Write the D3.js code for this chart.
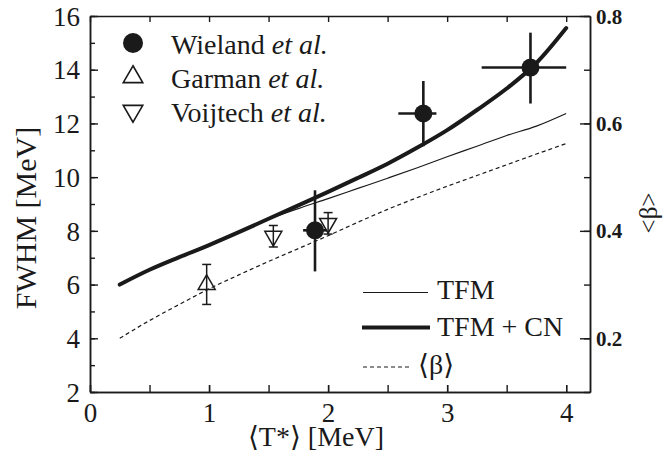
<!DOCTYPE html>
<html>
<head>
<meta charset="utf-8">
<script src="https://cdn.jsdelivr.net/npm/d3@7"></script>
<style>
  html, body { margin: 0; padding: 0; background: #fff; }
  svg { display: block; }
  text { font-family: "Liberation Serif", "Times New Roman", "DejaVu Serif", serif; fill: #1a1a1a; }
</style>
</head>
<body>
<svg id="chart" width="664" height="462"></svg>
<script>
// ---------- data ----------
const tGrid      = [0.25, 0.5, 0.75, 1.0, 1.25, 1.5, 1.75, 2.0, 2.25, 2.5, 2.75, 3.0, 3.25, 3.5, 3.75, 4.0];
const tfmCN      = [6.0, 6.55, 7.02, 7.47, 7.95, 8.45, 8.95, 9.45, 9.97, 10.5, 11.1, 11.75, 12.5, 13.3, 14.25, 15.55];
const tfm        = [6.0, 6.55, 7.02, 7.47, 7.95, 8.43, 8.83, 9.2, 9.58, 9.96, 10.35, 10.76, 11.15, 11.55, 11.9, 12.37];
const betaMean   = [0.200, 0.233, 0.263, 0.292, 0.318, 0.343, 0.367, 0.391, 0.416, 0.440, 0.462, 0.483, 0.503, 0.523, 0.543, 0.5625];

// Wieland et al.: T, FWHM, x-error low/high, y-error low/high
const wielandT     = [1.89, 2.80, 3.70];
const wielandFWHM  = [8.02, 12.37, 14.08];
const wielandTLo   = [1.79, 2.59, 3.29];
const wielandTHi   = [1.99, 2.91, 4.00];
const wielandFLo   = [6.49, 11.15, 12.74];
const wielandFHi   = [9.51, 13.58, 15.38];

// Garman et al.
const garmanT    = [0.98];
const garmanFWHM = [6.0];
const garmanFLo  = [5.26];
const garmanFHi  = [6.75];

// Voijtech et al.
const voijT      = [1.54, 2.0];
const voijFWHM   = [7.8, 8.28];
const voijFLo    = [7.4, 7.88];
const voijFHi    = [8.2, 8.68];

const xTicksMajor = [0, 1, 2, 3, 4];
const xTicksMinor = [0, 0.5, 1, 1.5, 2, 2.5, 3, 3.5, 4];
const yTicksMajor = [2, 4, 6, 8, 10, 12, 14, 16];
const yTicksMinor = [2, 3, 4, 5, 6, 7, 8, 9, 10, 11, 12, 13, 14, 15, 16];
const rTicksMajor = [0.2, 0.4, 0.6, 0.8];
const rTicksMinor = [0.1, 0.2, 0.3, 0.4, 0.5, 0.6, 0.7, 0.8];

const legendMarkers = ["Wieland", "Garman", "Voijtech"];
const legendLines   = ["TFM", "TFM + CN", "\u27E8\u03B2\u27E9"];

// ---------- layout ----------
const L = 90, R = 590, T = 16, B = 392;
const ink = "#1a1a1a";
const svg = d3.select("#chart");
svg.append("rect").attr("width", 664).attr("height", 462).attr("fill", "#fff");

const x  = d3.scaleLinear().domain([0, 4.2]).range([L, R]);
const yL = d3.scaleLinear().domain([2, 16]).range([B, T]);
const yR = d3.scaleLinear().domain([0.1, 0.8]).range([B, T]);

function styleAxis(g) {
  g.selectAll("path.domain").attr("stroke", ink).attr("stroke-width", 1.5);
  g.selectAll(".tick line").attr("stroke", ink).attr("stroke-width", 1.4);
}

// minor ticks
svg.append("g").attr("transform", `translate(${L},0)`)
  .call(d3.axisLeft(yL).tickValues(yTicksMinor).tickSize(-5).tickSizeOuter(0).tickFormat(""))
  .call(styleAxis);
svg.append("g").attr("transform", `translate(${R},0)`)
  .call(d3.axisRight(yR).tickValues(rTicksMinor).tickSize(-6).tickSizeOuter(0).tickFormat(""))
  .call(styleAxis);
svg.append("g").attr("transform", `translate(0,${B})`)
  .call(d3.axisBottom(x).tickValues(xTicksMinor).tickSize(-7).tickSizeOuter(0).tickFormat(""))
  .call(styleAxis);
svg.append("g").attr("transform", `translate(0,${T})`)
  .call(d3.axisTop(x).tickValues(xTicksMinor).tickSize(-6).tickSizeOuter(0).tickFormat(""))
  .call(styleAxis);

// major ticks with labels
const gl = svg.append("g").attr("transform", `translate(${L},0)`)
  .call(d3.axisLeft(yL).tickValues(yTicksMajor).tickSize(-8).tickSizeOuter(0).tickPadding(10).tickFormat(d3.format("d")))
  .call(styleAxis);
gl.selectAll("text").attr("font-size", 27).attr("fill", ink).attr("dy", "0.34em");

const gb = svg.append("g").attr("transform", `translate(0,${B})`)
  .call(d3.axisBottom(x).tickValues(xTicksMajor).tickSize(-7).tickSizeOuter(0).tickPadding(11).tickFormat(d3.format("d")))
  .call(styleAxis);
gb.selectAll("text").attr("font-size", 27).attr("fill", ink);

const gr = svg.append("g").attr("transform", `translate(${R},0)`)
  .call(d3.axisRight(yR).tickValues(rTicksMajor).tickSize(-10).tickSizeOuter(0).tickPadding(6).tickFormat(d3.format(".1f")))
  .call(styleAxis);
gr.selectAll("text").attr("font-size", 21).attr("font-weight", "bold").attr("fill", ink).attr("dy", "0.34em");

// axis titles
svg.append("text").attr("transform", "translate(36,218) rotate(-90)")
  .attr("text-anchor", "middle").attr("font-size", 30).text("FWHM [MeV]");
svg.append("text").attr("x", 316).attr("y", 446)
  .attr("text-anchor", "middle").attr("font-size", 28).text("\u27E8T*\u27E9 [MeV]");
svg.append("text").attr("transform", "translate(657,213) rotate(-90)")
  .attr("text-anchor", "middle").attr("font-size", 25).text("<\u03B2>");

// ---------- curves ----------
const lineL = d3.line().x(d => x(d[0])).y(d => yL(d[1])).curve(d3.curveMonotoneX);
const lineR = d3.line().x(d => x(d[0])).y(d => yR(d[1])).curve(d3.curveMonotoneX);

svg.append("path").datum(d3.zip(tGrid, betaMean)).attr("d", lineR)
  .attr("fill", "none").attr("stroke", ink).attr("stroke-width", 1.2).attr("stroke-dasharray", "4,3");
svg.append("path").datum(d3.zip(tGrid, tfm)).attr("d", lineL)
  .attr("fill", "none").attr("stroke", ink).attr("stroke-width", 1.2);
svg.append("path").datum(d3.zip(tGrid, tfmCN)).attr("d", lineL)
  .attr("fill", "none").attr("stroke", ink).attr("stroke-width", 4).attr("stroke-linecap", "round");

// ---------- data points ----------
const wieland = wielandT.map((t, i) => ({t, f: wielandFWHM[i], tl: wielandTLo[i], th: wielandTHi[i], fl: wielandFLo[i], fh: wielandFHi[i]}));
const gW = svg.append("g");
gW.selectAll("line.v").data(wieland).join("line")
  .attr("x1", d => x(d.t)).attr("x2", d => x(d.t)).attr("y1", d => yL(d.fl)).attr("y2", d => yL(d.fh))
  .attr("stroke", ink).attr("stroke-width", 2.6);
gW.selectAll("line.h").data(wieland).join("line")
  .attr("x1", d => x(d.tl)).attr("x2", d => x(d.th)).attr("y1", d => yL(d.f)).attr("y2", d => yL(d.f))
  .attr("stroke", ink).attr("stroke-width", 2.6);

function capBars(g, ts, fs, los, his) {
  const data = ts.map((t, i) => ({t, f: fs[i], lo: los[i], hi: his[i]}));
  g.selectAll(null).data(data).join("line")
    .attr("x1", d => x(d.t)).attr("x2", d => x(d.t)).attr("y1", d => yL(d.lo)).attr("y2", d => yL(d.hi))
    .attr("stroke", ink).attr("stroke-width", 1.5);
  [ "lo", "hi" ].forEach(k => {
    g.selectAll(null).data(data).join("line")
      .attr("x1", d => x(d.t) - 4.5).attr("x2", d => x(d.t) + 4.5)
      .attr("y1", d => yL(d[k])).attr("y2", d => yL(d[k]))
      .attr("stroke", ink).attr("stroke-width", 1.5);
  });
  return data;
}
const gG = svg.append("g");
const garman = capBars(gG, garmanT, garmanFWHM, garmanFLo, garmanFHi);
const gV = svg.append("g");
const voij = capBars(gV, voijT, voijFWHM, voijFLo, voijFHi);

gW.selectAll("circle").data(wieland).join("circle")
  .attr("cx", d => x(d.t)).attr("cy", d => yL(d.f)).attr("r", 9).attr("fill", ink);

const triUp = d3.symbol().type(d3.symbolTriangle).size(125);
gG.selectAll("path.m").data(garman).join("path")
  .attr("d", triUp).attr("transform", d => `translate(${x(d.t)},${yL(d.f)})`)
  .attr("fill", "none").attr("stroke", ink).attr("stroke-width", 1.5);
gV.selectAll("path.m").data(voij).join("path")
  .attr("d", triUp).attr("transform", d => `translate(${x(d.t)},${yL(d.f)}) rotate(180)`)
  .attr("fill", "none").attr("stroke", ink).attr("stroke-width", 1.5);

// ---------- legend (markers) ----------
const lg = svg.append("g");
const rows = [43, 77, 111];
lg.append("circle").attr("cx", 133).attr("cy", rows[0]).attr("r", 10).attr("fill", ink);
const triLeg = d3.symbol().type(d3.symbolTriangle).size(165);
lg.append("path").attr("d", triLeg).attr("transform", `translate(133,${rows[1]})`)
  .attr("fill", "none").attr("stroke", ink).attr("stroke-width", 1.6);
lg.append("path").attr("d", triLeg).attr("transform", `translate(133,${rows[2]}) rotate(180)`)
  .attr("fill", "none").attr("stroke", ink).attr("stroke-width", 1.6);
legendMarkers.forEach((name, i) => {
  const t = lg.append("text").attr("x", 171).attr("y", rows[i] + 11).attr("font-size", 28);
  t.append("tspan").text(name + " ");
  t.append("tspan").attr("font-style", "italic").text("et al.");
});

// ---------- legend (lines) ----------
const ll = svg.append("g");
const lrows = [292.5, 327.5, 367];
ll.append("line").attr("x1", 363).attr("x2", 428).attr("y1", lrows[0]).attr("y2", lrows[0])
  .attr("stroke", ink).attr("stroke-width", 1.2);
ll.append("line").attr("x1", 362).attr("x2", 430).attr("y1", lrows[1]).attr("y2", lrows[1])
  .attr("stroke", ink).attr("stroke-width", 4);
ll.append("line").attr("x1", 363).attr("x2", 410).attr("y1", lrows[2]).attr("y2", lrows[2])
  .attr("stroke", ink).attr("stroke-width", 1.2).attr("stroke-dasharray", "4,3");
ll.append("text").attr("x", 437).attr("y", 298.5).attr("font-size", 28).text(legendLines[0]);
ll.append("text").attr("x", 437).attr("y", 336).attr("font-size", 28).text(legendLines[1]);
ll.append("text").attr("x", 418).attr("y", 374).attr("font-size", 28).text(legendLines[2]);
</script>
</body>
</html>
